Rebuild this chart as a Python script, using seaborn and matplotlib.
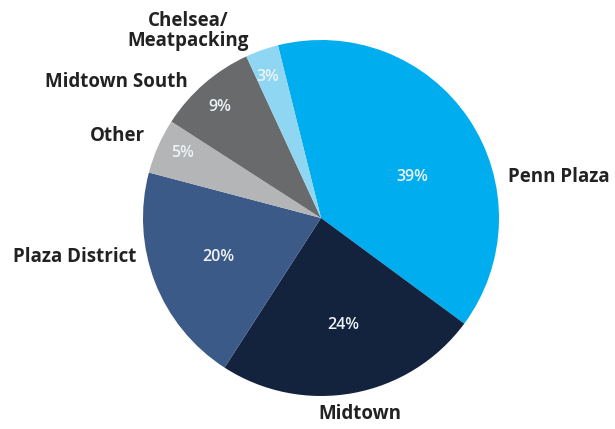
import matplotlib
matplotlib.use("Agg")
import matplotlib.pyplot as plt
import seaborn as sns
import numpy as np

# Share of leasing activity by submarket
submarkets = ["Penn Plaza", "Midtown", "Plaza District", "Other", "Midtown South", "Chelsea/\nMeatpacking"]
shares = [39, 24, 20, 5, 9, 3]
slice_colors = ["#00ADEF", "#13223D", "#3B5A87", "#B3B5B7", "#696A6C", "#8ED6F2"]

sns.set_theme(style="white")
plt.rcParams["font.family"] = ["Open Sans", "DejaVu Sans"]

W, H = 615, 429
fig = plt.figure(figsize=(W / 100, H / 100), dpi=100)
cx, cy, r = 321, 218, 178
ax = fig.add_axes([(cx - r) / W, (H - cy - r) / H, 2 * r / W, 2 * r / H])

wedges, _ = ax.pie(shares, colors=slice_colors, startangle=104, counterclock=False,
                   wedgeprops=dict(linewidth=0))
ax.set_xlim(-1, 1)
ax.set_ylim(-1, 1)
ax.set_aspect("equal")
ax.axis("off")


def to_ax(px, py):
    return (px - cx) / r, (cy - py) / r


# Percentage labels inside the wedges
pct_pos = [(412, 177), (343, 325), (218, 257), (183, 153), (220, 107), (268, 77)]
for v, (px, py) in zip(shares, pct_pos):
    x, y = to_ax(px, py)
    ax.text(x, y, f"{v}%", ha="center", va="center",
            color="#EEF3F8", fontsize=11.5, fontweight="semibold")

# Category labels around the pie
label_pos = [
    ((508, 177), "left"),
    ((360, 414), "center"),
    ((136, 257), "right"),
    ((145, 136), "right"),
    ((188, 82), "right"),
    ((188, 31), "center"),
]
for name, ((px, py), ha) in zip(submarkets, label_pos):
    x, y = to_ax(px, py)
    ax.text(x, y, name, ha=ha, va="center", color="#222222", fontsize=13.5,
            fontweight="bold", linespacing=1.05)

fig.savefig("out.png", dpi=100, facecolor="white")
